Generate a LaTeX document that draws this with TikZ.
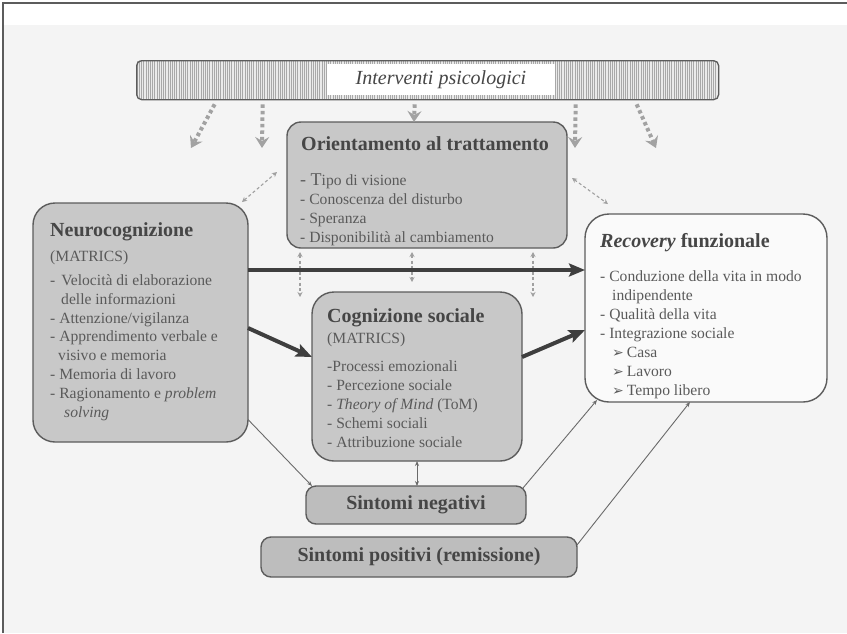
\documentclass[tikz,border=0pt]{standalone}
\usepackage{fontspec}
\setmainfont{Liberation Serif}
\newfontfamily\symfont{DejaVu Sans}
\usetikzlibrary{arrows.meta,calc}
\definecolor{bg}{HTML}{F4F4F4}
\definecolor{boxfill}{HTML}{C8C8C8}
\definecolor{sympfill}{HTML}{BDBDBD}
\definecolor{recfill}{HTML}{FAFAFA}
\definecolor{edge}{HTML}{5C5C5C}
\definecolor{txt}{HTML}{5A5A5A}
\definecolor{ttlc}{HTML}{464646}
\definecolor{heavyc}{HTML}{3E3E3E}
\definecolor{dotc}{HTML}{A2A2A2}
\definecolor{dashc}{HTML}{A0A0A0}
\definecolor{thinc}{HTML}{6A6A6A}
\definecolor{stripec}{HTML}{A8A8A8}
\definecolor{barfill}{HTML}{EAEAEA}
\begin{document}
\begin{tikzpicture}[x=1pt,y=-1pt,
  panel/.style={draw=edge,line width=1.4pt,fill=boxfill,rounded corners=#1,anchor=north west,inner sep=0pt,outer sep=0pt},
  ttl/.style={anchor=base west,inner sep=0pt,text=ttlc,font=\fontsize{20}{24}\selectfont\bfseries},
  line/.style={anchor=base west,inner sep=0pt,text=txt,font=\fontsize{15.6}{18.9}\selectfont},
  blk/.style={anchor=north west,inner sep=0pt,align=left,text=txt,font=\fontsize{15.6}{18.9}\selectfont},
  heavy/.style={draw=heavyc,line width=4pt,-{Stealth[length=16pt,width=13pt,inset=3pt]}},
  thinarrow/.style={draw=thinc,line width=0.9pt,-{Stealth[length=5pt,width=4pt]}},
  thindbl/.style={draw=thinc,line width=0.9pt,{Stealth[length=5pt,width=4pt]}-{Stealth[length=5pt,width=4pt]}},
  dashdbl/.style={draw=dashc,line width=1.1pt,dash pattern=on 3pt off 2.5pt,{Stealth[length=5pt,width=5pt]}-{Stealth[length=5pt,width=5pt]}},
  dotarrow/.style={draw=dotc,line width=4pt,dash pattern=on 3.5pt off 3pt,-{Stealth[length=11pt,width=14pt,inset=4pt]}}
]
\useasboundingbox (0,0) rectangle (847,633);
\fill[white] (0,0) rectangle (847,633);
\fill[bg] (3,25) rectangle (847,633);
\draw[edge,line width=2.5pt] (3,633) -- (3,3) -- (847,3);

% top bar with stripes
\begin{scope}
\clip[rounded corners=5pt] (136,60) rectangle (718,99);
\fill[barfill] (136,60) rectangle (718,99);
\foreach \x in {137,139.2,...,718} \draw[stripec,line width=0.6pt] (\x,60) -- (\x,99);
\end{scope}
\node[draw=edge,line width=1.3pt,rounded corners=5pt,minimum width=582pt,minimum height=39pt,anchor=north west,inner sep=0pt] (bar) at (136,60) {};
\node[fill=white,minimum width=228pt,minimum height=31pt,inner sep=0pt,text=ttlc,font=\fontsize{20}{24}\selectfont\itshape] (lbl) at (441,79.5) {Interventi psicologici};

% boxes
\node[panel=22pt,minimum width=215pt,minimum height=239pt] (neuro) at (33,203) {};
\node[panel=14pt,minimum width=280pt,minimum height=126pt] (orient) at (287,122) {};
\node[panel=22pt,minimum width=210pt,minimum height=169pt] (cog) at (312,292) {};
\node[panel=24pt,fill=recfill,minimum width=242pt,minimum height=188pt] (recov) at (585,214) {};
\node[panel=10pt,fill=sympfill,minimum width=220pt,minimum height=38pt,text=ttlc,font=\fontsize{20}{24}\selectfont\bfseries] (neg) at (306,486) {Sintomi negativi};
\node[panel=10pt,fill=sympfill,minimum width=316pt,minimum height=40pt,text=ttlc,font=\fontsize{20}{24}\selectfont\bfseries] (pos) at (261,537) {Sintomi positivi (remissione)};

% texts
\node[ttl] (neuroT) at (50,236) {Neurocognizione};
\node[line] (neuroM) at (50,261) {(MATRICS)};
\node[blk] (neuroL) at (50,271.8) {\strut-\hspace{6pt}Velocità di elaborazione\\
\hspace*{11pt}delle informazioni\\
- Attenzione/vigilanza\\
- Apprendimento verbale e\\
\hspace*{8pt}visivo e memoria\\
- Memoria di lavoro\\
- Ragionamento e \textit{problem}\\
\hspace*{14pt}\textit{solving}};

\node[ttl] (orientT) at (301,150.5) {Orientamento al trattamento};
\node[blk,font=\fontsize{15.6}{19.2}\selectfont] (orientL) at (300,171.6) {\strut{\fontsize{18}{19.2}\selectfont- T}ipo di visione\\
- Conoscenza del disturbo\\
- Speranza\\
- Disponibilità al cambiamento};

\node[ttl] (cogT) at (327,322.5) {Cognizione sociale};
\node[line] (cogM) at (327,343) {(MATRICS)};
\node[blk] (cogL) at (327,358.3) {\strut-Processi emozionali\\
- Percezione sociale\\
- \textit{Theory of Mind} (ToM)\\
- Schemi sociali\\
- Attribuzione sociale};

\node[ttl] (recovT) at (600,247.5) {\textit{Recovery} funzionale};
\node[blk] (recovL) at (600,268.3) {\strut- Conduzione della vita in modo\\
\hspace*{12pt}indipendente\\
- Qualità della vita\\
- Integrazione sociale\\
\hspace*{12pt}{\symfont\fontsize{14}{18.9}\selectfont ➢}\hspace{3pt}Casa\\
\hspace*{12pt}{\symfont\fontsize{14}{18.9}\selectfont ➢}\hspace{3pt}Lavoro\\
\hspace*{12pt}{\symfont\fontsize{14}{18.9}\selectfont ➢}\hspace{3pt}Tempo libero};

% dotted arrows from the bar
\coordinate (e1) at (191,148);
\coordinate (e2) at (262,148);
\coordinate (e4) at (575,148);
\coordinate (e5) at (656,148);
\draw[dotarrow] ([xshift=-213pt,yshift=-4pt]bar.south) -- (e1);
\draw[dotarrow] ([xshift=-165pt,yshift=-4pt]bar.south) -- (e2);
\draw[dotarrow] ([xshift=-13pt,yshift=-4pt]bar.south) -- ([xshift=-13pt]orient.north);
\draw[dotarrow] ([xshift=148pt,yshift=-4pt]bar.south) -- (e4);
\draw[dotarrow] ([xshift=209pt,yshift=-4pt]bar.south) -- (e5);

% dashed double arrows
\draw[dashdbl] ([xshift=-6pt,yshift=1pt]neuro.north east) -- ([xshift=-10pt,yshift=13pt]orient.west);
\draw[dashdbl] ([xshift=5pt,yshift=7pt]orient.east) -- ([xshift=23pt,yshift=10pt]recov.north west);
\coordinate (v1) at (300,297);
\coordinate (v2) at (412,282);
\coordinate (v3) at (533,297);
\draw[dashdbl] ($(orient.south -| v1)+(0,4)$) -- (v1);
\draw[dashdbl] ($(orient.south -| v2)+(0,4)$) -- (v2);
\draw[dashdbl] ($(orient.south -| v3)+(0,4)$) -- (v3);

% heavy arrows
\draw[heavy] ([yshift=52.5pt]neuro.east) -- ([yshift=52.5pt]neuro.east -| recov.west);
\draw[heavy] ([yshift=-5.5pt]neuro.east) -- ([yshift=19.5pt]cog.west);
\draw[heavy] ([yshift=19.5pt]cog.east) -- ([yshift=-22pt]recov.west);

% thin arrows
\draw[thinarrow] ([yshift=-97pt]neuro.east) -- ([xshift=6pt]neg.north west);
\draw[thinarrow] ([xshift=-3pt,yshift=-2pt]neg.north east) -- ([xshift=12pt,yshift=2pt]recov.south west);
\draw[thinarrow] ([yshift=12pt]pos.east) -- ([xshift=-16pt]recov.south);
\draw[thindbl] (cog.south) -- (cog.south |- neg.north);
\end{tikzpicture}
\end{document}
